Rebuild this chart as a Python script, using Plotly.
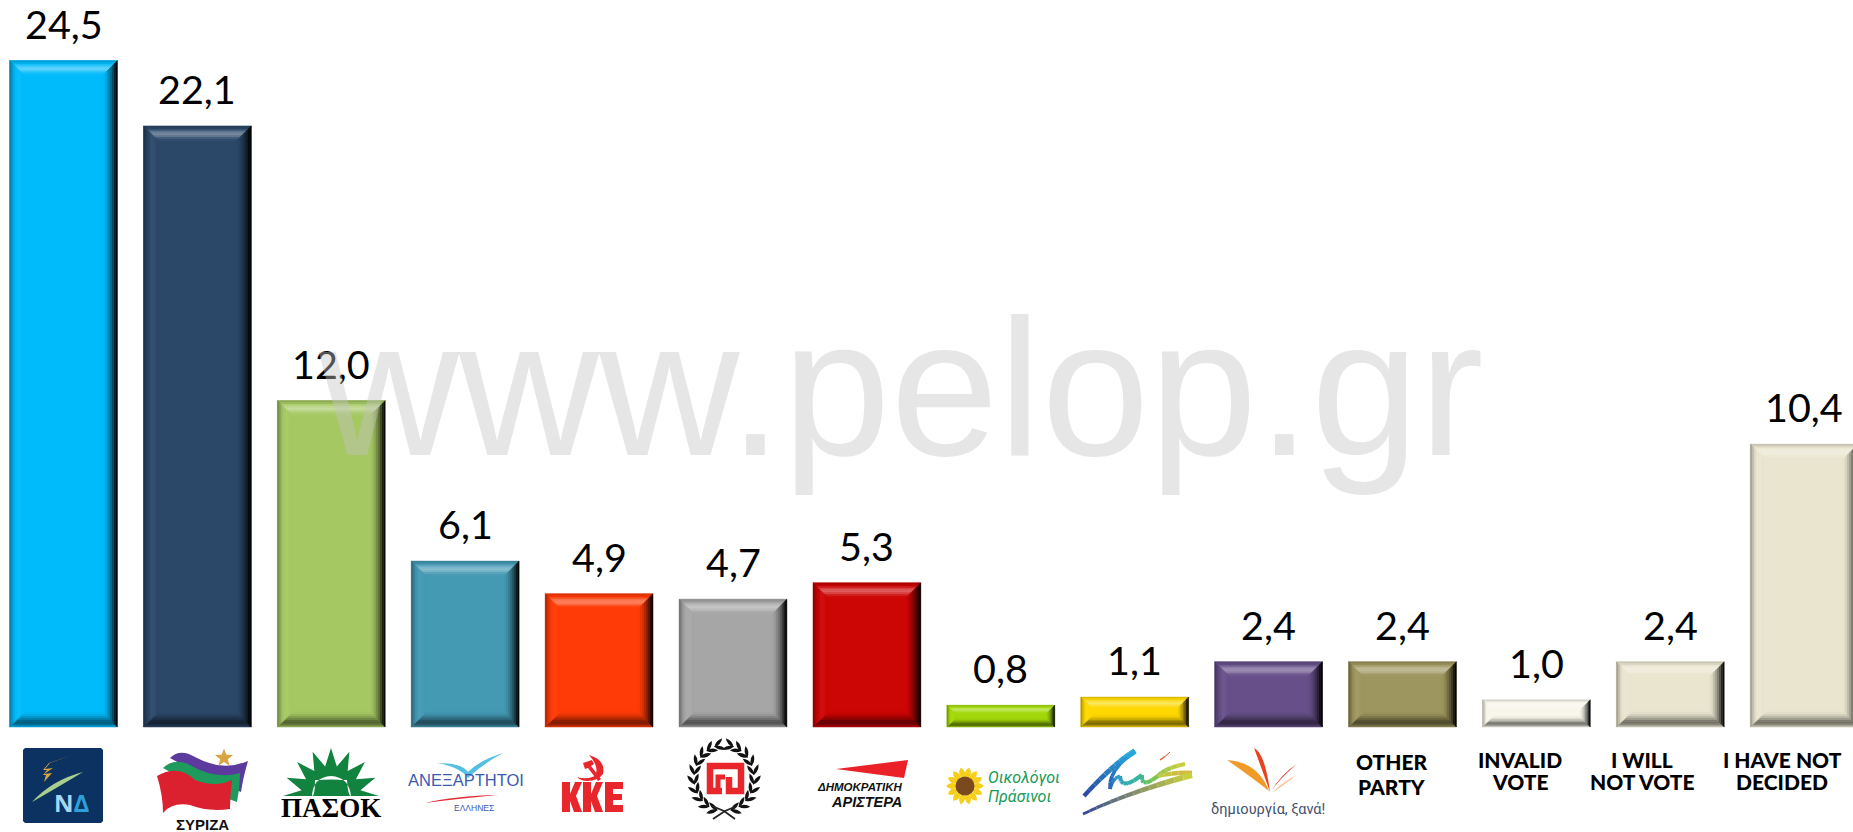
import math
import plotly.graph_objects as go

# ---- data ----
parties = ["ΝΔ", "ΣΥΡΙΖΑ", "ΠΑΣΟΚ", "ΑΝΕΛ", "ΚΚΕ", "ΧΑ", "ΔΗΜΑΡ", "ΟΠ", "ΛΑΟΣ", "Δημιουργία",
           "OTHER PARTY", "INVALID VOTE", "I WILL NOT VOTE", "I HAVE NOT DECIDED"]
values = [24.5, 22.1, 12.0, 6.1, 4.9, 4.7, 5.3, 0.8, 1.1, 2.4, 2.4, 1.0, 2.4, 10.4]
value_labels = ["24,5", "22,1", "12,0", "6,1", "4,9", "4,7", "5,3", "0,8", "1,1", "2,4", "2,4", "1,0", "2,4", "10,4"]
colors = ["#00BBFB", "#2C4869", "#A5C863", "#4499B3", "#FF3B07", "#A6A6A6", "#CC0505", "#A2D80A",
          "#FFD800", "#675089", "#9E965F", "#F8F6EA", "#E9E5CF", "#E9E5CF"]
text_labels = [
    ("OTHER", 1392, 761), ("PARTY", 1392, 786),
    ("INVALID", 1520, 759), ("VOTE", 1520, 781),
    ("I WILL", 1642, 759), ("NOT VOTE", 1642, 781),
    ("I HAVE NOT", 1782, 759), ("DECIDED", 1782, 781),
]

W, H = 1853, 832
X0, DX = 63.5, 133.9      # pixel of category 0, pixels per category
Y0, DY = 727.0, 27.2      # pixel of value 0, pixels per unit
BARW = 0.805


def hexrgb(c):
    return [int(c[i:i + 2], 16) for i in (1, 3, 5)]


def mix(c, f):
    r = hexrgb(c)
    t = 255 if f > 0 else 0
    a = abs(f)
    return "rgb(%d,%d,%d)" % tuple(round(v + (t - v) * a) for v in r)


shapes = []


# ---- bevels, in data coordinates derived from each value ----
def strip(points, color):
    d = "M" + " L".join(f"{x:.4f},{y:.4f}" for x, y in points) + " Z"
    shapes.append(dict(type="path", xref="x", yref="y", path=d, fillcolor=color,
                       line=dict(width=0.5, color=color), layer="above"))


TOP = [-0.14, -0.06, 0.12, 0.30, 0.36, 0.28, 0.12, 0.03]
BOTTOM = [-0.18, -0.42, -0.52, -0.46, -0.32, -0.2, -0.1, -0.03]
LEFT = [-0.30, -0.18, -0.06, 0.0, 0.05, 0.04, 0.02, 0.0]
RIGHT = [-0.95, -0.82, -0.62, -0.44, -0.3, -0.18, -0.08, -0.02]

for i, (v, c) in enumerate(zip(values, colors)):
    h_px = v * DY
    inset = min(15.0, h_px * 0.40)
    l, r = i - BARW / 2, i + BARW / 2
    n = len(TOP)
    for k in range(n):
        a = inset * k / n
        b = inset * (k + 1) / n
        ax, bx = a / DX, b / DX
        ay, by = a / DY, b / DY
        strip([(l + ax, v - ay), (r - ax, v - ay), (r - bx, v - by), (l + bx, v - by)], mix(c, TOP[k]))
        strip([(l + ax, ay), (r - ax, ay), (r - bx, by), (l + bx, by)], mix(c, BOTTOM[k]))
        strip([(l + ax, ay), (l + ax, v - ay), (l + bx, v - by), (l + bx, by)], mix(c, LEFT[k]))
        strip([(r - ax, ay), (r - ax, v - ay), (r - bx, v - by), (r - bx, by)], mix(c, RIGHT[k]))


# ---- logos, drawn in page pixels ----
def P(x, y):
    return x / W, 1 - y / H


def poly(pts, fill, closed=True, line=None, lw=0):
    d = "M" + " L".join("%.5f,%.5f" % P(x, y) for x, y in pts) + (" Z" if closed else "")
    s = dict(type="path", xref="paper", yref="paper", path=d, layer="above",
             line=dict(width=lw, color=line or "rgba(0,0,0,0)"))
    if closed:
        s["fillcolor"] = fill
    shapes.append(s)


def curve(pts, fill=None, closed=True, line=None, lw=0):
    d = "M%.5f,%.5f" % P(*pts[0])
    for j in range(1, len(pts) - 1, 2):
        d += " Q%.5f,%.5f %.5f,%.5f" % (P(*pts[j]) + P(*pts[j + 1]))
    if closed:
        d += " Z"
    s = dict(type="path", xref="paper", yref="paper", path=d, layer="above",
             line=dict(width=lw, color=line or "rgba(0,0,0,0)"))
    if closed:
        s["fillcolor"] = fill
    shapes.append(s)


def ellipse(cx, cy, rx, ry, fill):
    x0, y1 = P(cx - rx, cy - ry)
    x1, y0 = P(cx + rx, cy + ry)
    shapes.append(dict(type="circle", xref="paper", yref="paper", x0=x0, x1=x1, y0=y0, y1=y1,
                       fillcolor=fill, line=dict(width=0), layer="above"))


def leaf(cx, cy, length, width, ang, fill):
    c, s = math.cos(ang), math.sin(ang)
    tip1 = (cx + c * length / 2, cy + s * length / 2)
    tip2 = (cx - c * length / 2, cy - s * length / 2)
    n1 = (cx - s * width, cy + c * width)
    n2 = (cx + s * width, cy - c * width)
    curve([tip1, n1, tip2, n2, tip1], fill)


def grad_stroke(p0, c, p1, col0, col1, w0, w1, n=10):
    a, b = hexrgb(col0), hexrgb(col1)
    prev = p0
    for j in range(1, n + 1):
        t = j / n
        q = ((1 - t) ** 2 * p0[0] + 2 * t * (1 - t) * c[0] + t ** 2 * p1[0],
             (1 - t) ** 2 * p0[1] + 2 * t * (1 - t) * c[1] + t ** 2 * p1[1])
        col = "rgb(%d,%d,%d)" % tuple(round(u + (v - u) * t) for u, v in zip(a, b))
        poly([prev, q], None, closed=False, line=col, lw=w0 + (w1 - w0) * t)
        prev = q


# Nea Dimokratia
poly([(25, 748), (101, 748), (103, 750), (103, 821), (101, 823), (25, 823), (23, 821), (23, 750)], "#0B3260")
poly([(72, 755), (50, 763), (45, 769), (53, 768), (44, 774), (52, 773), (44, 782), (46, 775), (43, 775), (47, 770),
      (43, 770), (49, 763)], "#D9A441")
curve([(32, 802), (52, 780), (83, 772), (60, 786), (32, 802)], "#A9CF8E")

# Syriza
curve([(170, 758), (180, 748), (195, 757), (222, 772), (248, 761), (243, 778), (241, 792), (210, 780), (170, 758)], "#5C3A9E")
curve([(163, 768), (175, 757), (190, 765), (215, 780), (240, 773), (240, 788), (237, 802), (200, 790), (163, 768)], "#1E9A5C")
curve([(157, 776), (178, 764), (195, 780), (215, 788), (232, 780), (230, 795), (230, 809), (208, 812), (190, 805),
       (172, 802), (163, 813), (163, 795), (157, 776)], "#DB2030")
star = []
for j in range(10):
    rr = 9.5 if j % 2 == 0 else 4
    a = -math.pi / 2 + j * math.pi / 5
    star.append((224 + rr * math.cos(a), 758 + rr * math.sin(a)))
poly(star, "#D9A441")

# Pasok
rays = []
cx, cy, r_out, r_in = 331, 796, 48, 30
count = 8
for j in range(2 * count + 1):
    a = math.pi + j * math.pi / (2 * count)
    rr = r_out if j % 2 == 0 else r_in
    rays.append((cx + rr * math.cos(a), cy + rr * math.sin(a)))
poly(rays, "#11833F")
curve([(312, 796), (313, 777), (331, 776), (349, 777), (351, 796), (348, 796), (347, 780), (331, 779), (315, 780),
       (315, 796), (312, 796)], "#FFFFFF")

# Anexartitoi Ellines
curve([(437, 763), (462, 763), (468, 772), (480, 760), (503, 753), (484, 763), (468, 778), (460, 767), (437, 763)], "#55BFE3")
curve([(425, 803), (455, 796), (498, 795), (455, 799), (425, 803)], "#E02B35")

# KKE
curve([(589, 755), (606, 760), (603, 774), (598, 781), (587, 781), (581, 781), (577, 777), (586, 780), (595, 776),
       (600, 767), (589, 755)], "#E8262C")
poly([(583, 763), (592, 760), (594, 764), (591, 766), (601, 779), (598, 781), (588, 768), (585, 769)], "#E8262C")
for kx in (562, 583):
    t_, b_, m_ = 782, 812, 797
    poly([(kx, t_), (kx + 8, t_), (kx + 8, m_ - 3), (kx + 13, t_), (kx + 20, t_), (kx + 14, m_ - 1), (kx + 20, b_),
          (kx + 12, b_), (kx + 8, m_ + 4), (kx + 8, b_), (kx, b_)], "#E8262C")
poly([(605, 782), (623, 782), (623, 789), (613, 789), (613, 794), (622, 794), (622, 800), (613, 800), (613, 805),
      (623, 805), (623, 812), (605, 812)], "#E8262C")

# Golden Dawn
poly([(722, 791), (710, 791), (710, 766), (741, 766), (741, 791), (729, 791), (729, 777)], None, closed=False,
     line="#E8262C", lw=6.5)
poly([(718, 791), (718, 777), (725, 777)], None, closed=False, line="#E8262C", lw=5)
wc = (724, 778)
for sign in (-1, 1):
    for j in range(10):
        t = math.radians(76 - j * 16.5)
        lx, ly = 30 * math.cos(t), 33 * math.sin(t)
        for off in (-0.55, 0.55):
            ang = t - math.pi / 2 + off
            x_ = lx + 5 * math.cos(ang)
            y_ = ly + 5 * math.sin(ang)
            if sign < 0:
                x_, a_ = -x_, math.pi - ang
            else:
                a_ = ang
            leaf(wc[0] + x_, wc[1] + y_, 12, 3.6, a_, "#111111")
poly([(712, 806), (724, 811), (735, 819)], None, closed=False, line="#222222", lw=1.8)
poly([(737, 806), (725, 811), (713, 819)], None, closed=False, line="#222222", lw=1.8)

# Dimokratiki Aristera
poly([(836, 769), (908, 760), (904, 778)], "#EA2227")

# Ecologist Greens sunflower
for j in range(14):
    a = j * 2 * math.pi / 14
    leaf(965 + 13 * math.cos(a), 786 + 13 * math.sin(a), 12, 6, a, "#F7CE1A")
ellipse(965, 786, 9.5, 9.5, "#7A4A1E")

# Laos swoosh
grad_stroke((1084, 796), (1111, 766), (1135, 751), "#2A3E9F", "#27B5E0", 4, 6)
grad_stroke((1135, 751), (1108, 770), (1110, 789), "#27B5E0", "#2A56B0", 4, 3.5, 6)
grad_stroke((1110, 789), (1112, 778), (1120, 776), "#2A56B0", "#2C9BC9", 3.5, 3.5, 3)
grad_stroke((1120, 776), (1120, 792), (1142, 775), "#2C9BC9", "#35B5A0", 4, 4, 5)
grad_stroke((1142, 775), (1140, 790), (1158, 776), "#35B5A0", "#7AC44F", 4, 4, 5)
grad_stroke((1158, 776), (1165, 768), (1185, 764), "#7AC44F", "#C9CF3F", 4.5, 4, 5)
grad_stroke((1158, 776), (1175, 772), (1192, 773), "#B8CE45", "#D9B53A", 4, 4.5, 5)
grad_stroke((1083, 814), (1129, 792), (1192, 775), "#2A3E9F", "#C9CF3F", 2.5, 6, 14)
grad_stroke((1160, 760), (1165, 757), (1170, 752), "#E8552B", "#E8552B", 2, 1, 2)

# Dimiourgia fan
curve([(1227, 760), (1258, 762), (1269, 791), (1250, 776), (1227, 760)], "#F09A2A")
curve([(1254, 748), (1265, 753), (1270, 792), (1264, 775), (1254, 748)], "#E8421E")
curve([(1297, 764), (1280, 775), (1271, 792), (1278, 780), (1297, 764)], "#D9433A")
curve([(1297, 775), (1282, 782), (1272, 793), (1280, 788), (1297, 775)], "#F2C9A0")

# ---- text ----
ann = []


def page_text(txt, x, y, size, color="#000000", fam="Lato", bold=False, italic=False, anchor="center", weight=None):
    if bold:
        txt = f"<b>{txt}</b>"
    if italic:
        txt = f"<i>{txt}</i>"
    xp, yp = P(x, y)
    f = dict(family=fam, size=size, color=color)
    if weight:
        f["weight"] = weight
    ann.append(dict(text=txt, x=xp, y=yp, xref="paper", yref="paper", showarrow=False,
                    xanchor=anchor, yanchor="middle", font=f))


for i, (v, t) in enumerate(zip(values, value_labels)):
    ann.append(dict(text=t, x=i, y=v, xref="x", yref="y", showarrow=False, xanchor="center",
                    yanchor="bottom", yshift=12, font=dict(family="Lato", size=39.5, color="#000000")))

for t, x, y in text_labels:
    page_text(t, x, y, 21, weight=900)

SANS = "Liberation Sans"
page_text('<span style="color:#A5D6F2">Ν</span><span style="color:#2F9FD8">Δ</span>', 72, 802, 24, fam="Open Sans", bold=True)
page_text("ΣΥΡΙΖΑ", 202, 824, 15, color="#111111", fam=SANS, bold=True)
page_text("ΠΑΣΟΚ", 331, 808, 27, color="#000000", fam="Liberation Serif", bold=True)
page_text("ΑΝΕΞΑΡΤΗΤΟΙ", 466, 780, 16.5, color="#3A5BB0", fam=SANS)
page_text("ΕΛΛΗΝΕΣ", 474, 808, 8.5, color="#3A5BB0", fam=SANS)
page_text("ΔΗΜΟΚΡΑΤΙΚΗ", 904, 787, 11.5, color="#111111", fam=SANS, bold=True, italic=True, anchor="right")
page_text("ΑΡΙΣΤΕΡΑ", 904, 802, 14.5, color="#111111", fam=SANS, bold=True, italic=True, anchor="right")
page_text("Οικολόγοι", 986, 777, 16, color="#149A55", fam="Roboto", italic=True, anchor="left")
page_text("Πράσινοι", 986, 796, 16, color="#149A55", fam="Roboto", italic=True, anchor="left")
page_text("δημιουργία, ξανά!", 1268, 809, 14.5, color="#44506E", fam="Roboto")

# watermark, over the bars
page_text("www.pelop.gr", 901, 387, 194, color="rgba(195,195,195,0.42)", fam=SANS)

fig = go.Figure(go.Bar(x=list(range(len(values))), y=values, width=BARW,
                       marker=dict(color=colors, line=dict(width=0)), hoverinfo="skip"))
fig.update_layout(
    width=W, height=H, margin=dict(l=0, r=0, t=0, b=0), paper_bgcolor="white", plot_bgcolor="white",
    showlegend=False, shapes=shapes, annotations=ann,
    xaxis=dict(range=[(0 - X0) / DX, (W - X0) / DX], visible=False, fixedrange=True),
    yaxis=dict(range=[(Y0 - H) / DY, Y0 / DY], visible=False, fixedrange=True),
)
fig.write_html("out.html", config={"displayModeBar": False},
               post_script="document.body.style.margin='0';document.documentElement.style.overflow='hidden';")
